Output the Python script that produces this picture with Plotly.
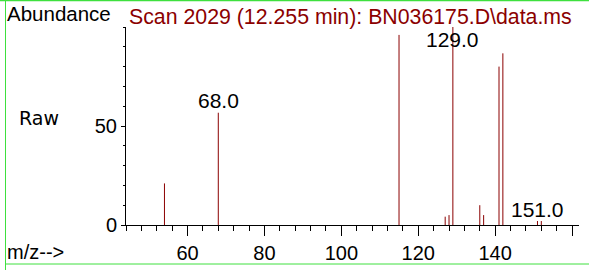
import plotly.graph_objects as go

# ---- data ----
mz = [54, 68, 115, 127, 128, 129, 136, 137, 141, 142, 151, 152]
abundance = [21, 56.7, 96, 4.2, 5, 100, 10, 5, 80, 86.7, 2, 2]
label_mz = [68, 129, 151]
label_text = ["68.0", "129.0", "151.0"]
x_major = [60, 80, 100, 120, 140, 160]
x_major_text = ["60", "80", "100", "120", "140", ""]
y_major = [0, 50]
y_major_text = ["0", "50"]

W, H = 589, 270
L, R, T, B = 126, 10, 27, 45
PW, PH = W - L - R, H - T - B

def px(x):
    return (x - L) / PW

def py(y):
    return (H - B - y) / PH

DARK = "#8b0000"
FONT = "Liberation Sans, Arial, sans-serif"

xs, ys = [], []
for m, a in zip(mz, abundance):
    xs += [m, m, None]
    ys += [0, a, None]

fig = go.Figure()
fig.add_trace(go.Scatter(x=xs, y=ys, mode="lines",
                         line=dict(color=DARK, width=1),
                         hoverinfo="skip", showlegend=False, cliponaxis=False))

for m, t in zip(label_mz, label_text):
    a = abundance[mz.index(m)]
    shift = -12 if a > 95 else 12
    fig.add_annotation(x=m, y=a, text=t, showarrow=False, xanchor="center",
                       yanchor="middle", yshift=shift,
                       font=dict(family=FONT, size=21, color="black"))

fig.add_annotation(xref="paper", yref="paper", x=px(5), y=py(13.5), text="Abundance",
                   showarrow=False, xanchor="left", yanchor="middle",
                   font=dict(family=FONT, size=20.5, color="black"))
fig.add_annotation(xref="paper", yref="paper", x=px(127), y=py(16.5),
                   text="Scan 2029 (12.255 min): BN036175.D\\data.ms",
                   showarrow=False, xanchor="left", yanchor="middle",
                   font=dict(family=FONT, size=21.3, color=DARK))
fig.add_annotation(xref="paper", yref="paper", x=px(17), y=py(118), text="Raw",
                   showarrow=False, xanchor="left", yanchor="middle",
                   font=dict(family="DejaVu Sans", size=19, color="black"))
fig.add_annotation(xref="paper", yref="paper", x=px(5), y=py(252), text="m/z-->",
                   showarrow=False, xanchor="left", yanchor="middle",
                   font=dict(family=FONT, size=20, color="black"))
fig.add_annotation(xref="paper", yref="paper", x=px(5), y=py(267), text="Abundance",
                   showarrow=False, xanchor="left", yanchor="top",
                   font=dict(family=FONT, size=20.5, color="black"))

GREEN = "#3ee03e"
fig.add_shape(type="line", xref="paper", yref="paper", x0=px(0), x1=px(W), y0=py(0.5), y1=py(0.5),
              line=dict(color=GREEN, width=1.5))
fig.add_shape(type="line", xref="paper", yref="paper", x0=px(5.5), x1=px(5.5), y0=py(0), y1=py(H),
              line=dict(color=GREEN, width=1))
fig.add_shape(type="line", xref="paper", yref="paper", x0=px(5), x1=px(W), y0=py(264), y1=py(264),
              line=dict(color=GREEN, width=1))

fig.update_xaxes(range=[44, 161.8], showline=True, linecolor="black", linewidth=1,
                 showgrid=False, zeroline=False, ticks="outside", ticklen=10,
                 tickcolor="black", tickvals=x_major, ticktext=x_major_text,
                 tickfont=dict(family=FONT, size=20, color="black"),
                 automargin=False,
                 minor=dict(dtick=4, tick0=44, ticks="outside", ticklen=5,
                            tickcolor="black", showgrid=False))
fig.update_yaxes(range=[0, 100], showline=True, linecolor="black", linewidth=1,
                 showgrid=False, zeroline=False, ticks="outside", ticklen=4,
                 tickcolor="black", tickvals=y_major, ticktext=y_major_text,
                 tickfont=dict(family=FONT, size=20, color="black"),
                 automargin=False,
                 minor=dict(dtick=10, tick0=0, ticks="outside", ticklen=2,
                            tickcolor="black", showgrid=False))

fig.update_layout(width=W, height=H, margin=dict(l=L, r=R, t=T, b=B, pad=0, autoexpand=False),
                  paper_bgcolor="white", plot_bgcolor="white", showlegend=False)

fig.write_html("out.html", config={"displayModeBar": False},
               post_script="document.body.style.margin='0';document.body.style.padding='0';document.body.style.overflow='hidden';")
